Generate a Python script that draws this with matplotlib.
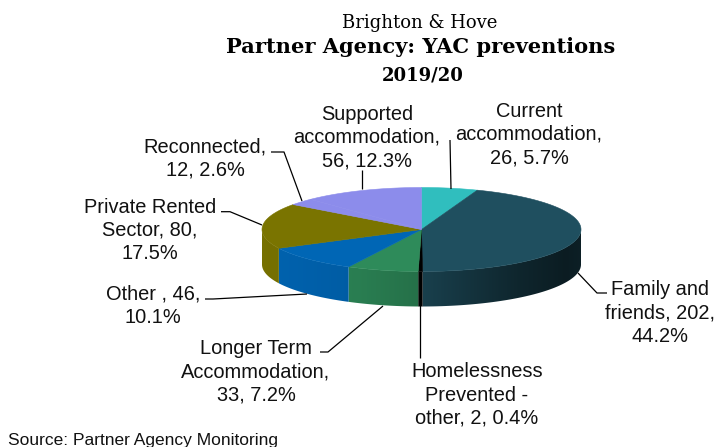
import numpy as np
import matplotlib
matplotlib.use("Agg")
import matplotlib.pyplot as plt
from matplotlib.patches import Polygon
from matplotlib.colors import to_rgb

# ---------------- data ----------------
categories = ["Current accommodation", "Family and friends",
              "Homelessness Prevented - other", "Longer Term Accommodation",
              "Other ", "Private Rented Sector", "Reconnected",
              "Supported accommodation"]
values = [26, 202, 2, 33, 46, 80, 12, 56]
label_templates = ["Current\naccommodation,\n{v}, {p}%",
                   "Family and\nfriends, {v},\n{p}%",
                   "Homelessness\nPrevented -\nother, {v}, {p}%",
                   "Longer Term\nAccommodation,\n{v}, {p}%",
                   "Other , {v},\n{p}%",
                   "Private Rented\nSector, {v},\n{p}%",
                   "Reconnected,\n{v}, {p}%",
                   "Supported\naccommodation,\n{v}, {p}%"]
colors = ["#30BEBE", "#1F4F5F", "#000000", "#2E8B5A",
          "#0066B5", "#7A7400", "#8C8CEB", "#8C8CEB"]
title_lines = ["Brighton & Hove", "Partner Agency: YAC preventions", "2019/20"]
source_text = "Source: Partner Agency Monitoring"

# ---------------- layout ----------------
W, H = 715, 447
fig = plt.figure(figsize=(7.15, 4.47), dpi=100)
ax = fig.add_axes([0, 0, 1, 1])

cx, cy, rx, ry, depth = 421.5, 229.5, 159.5, 42.0, 35.0
total = float(sum(values))
cum = np.concatenate([[0.0], np.cumsum(values)]) / total * 360.0


def arc(a0, a1, step=0.5):
    n = max(2, int(np.ceil((a1 - a0) / step)) + 1)
    a = np.linspace(a0, a1, n)
    t = np.radians(90.0 - a)
    return cx + rx * np.cos(t), cy - ry * np.sin(t)


def shade(x):
    u = (x - (cx - rx)) / (2 * rx)
    return np.interp(u, [0, 0.31, 0.51, 0.8, 0.95, 1.0],
                     [0.97, 0.9, 0.8, 0.48, 0.36, 0.4])


# side walls (front half: clockwise angles 90..270), gradient clipped
for i, v in enumerate(values):
    a0, a1 = cum[i], cum[i + 1]
    s0, s1 = max(a0, 90.0), min(a1, 270.0)
    if s1 <= s0:
        continue
    xs, ys = arc(s0, s1, step=0.25)
    poly = list(zip(xs, ys)) + list(zip(xs[::-1], ys[::-1] + depth))
    base = np.array(to_rgb(colors[i]))
    patch = Polygon(poly, closed=True, facecolor="none", edgecolor="none")
    ax.add_patch(patch)
    x_lo, x_hi = xs.min() - 1, xs.max() + 1
    y_lo, y_hi = ys.min() - 1, ys.max() + depth + 1
    ncol = max(2, int((x_hi - x_lo) * 2))
    xc = np.linspace(x_lo, x_hi, ncol)
    img = np.clip(base[None, None, :] * shade(xc)[None, :, None], 0, 1)
    img = np.repeat(img, 2, axis=0)
    im = ax.imshow(img, extent=(x_lo, x_hi, y_hi, y_lo), aspect="auto",
                   interpolation="bilinear", zorder=2)
    im.set_clip_path(patch)

# top faces
for i, v in enumerate(values):
    xs, ys = arc(cum[i], cum[i + 1], step=0.5)
    poly = [(cx, cy)] + list(zip(xs, ys))
    ax.add_patch(Polygon(poly, closed=True, facecolor=colors[i],
                         edgecolor=colors[i], lw=0.4, zorder=3))

# leader lines
leaders = [
    [(450, 140), (451, 189)],
    [(578, 273), (597, 293), (607, 293)],
    [(420, 305), (420, 358)],
    [(320, 352), (328, 352), (383, 306)],
    [(205, 299), (213, 299), (307, 294)],
    [(221, 211.7), (230, 211.7), (262, 225)],
    [(271, 152), (284, 152), (302, 201)],
    [(362, 170), (362, 189)],
]
for pts in leaders:
    p = np.array(pts)
    ax.plot(p[:, 0], p[:, 1], color="black", lw=0.9, zorder=4,
            solid_capstyle="butt")

# data labels
label_pos = [(529, 116.7), (660, 295), (477, 377.3), (256, 354),
             (153, 299.3), (150, 212.7), (205, 152.3), (367, 119.5)]
line_gap = 23.3
for i, v in enumerate(values):
    pct = round(v / total * 100, 1)
    txt = label_templates[i].format(v=v, p=pct)
    x0, y0 = label_pos[i]
    for j, line in enumerate(txt.split("\n")):
        ax.text(x0, y0 + j * line_gap, line, ha="center", va="baseline",
                fontsize=14.4, family="Liberation Sans", color="#111111",
                zorder=5)

ax.set_xlim(0, W)
ax.set_ylim(H, 0)
ax.axis("off")

renderer = fig.canvas.get_renderer()


def fit_text(x, y, s, width, size, **kw):
    t = ax.text(x, y, s, fontsize=size, **kw)
    bb = t.get_window_extent(renderer)
    t.set_fontsize(size * width / bb.width)
    return t


fit_text(419.5, 28.3, title_lines[0], 155, 13, ha="center", va="baseline",
         family="DejaVu Serif", color="black")
fit_text(420.5, 53.3, title_lines[1], 389, 16, ha="center", va="baseline",
         family="DejaVu Serif", fontweight="bold", color="black")
ax.text(422.5, 80.5, title_lines[2], ha="center", va="baseline", fontsize=13,
        family="DejaVu Serif", fontweight="bold", color="black")

t = ax.text(8.3, 445, source_text, ha="left", va="baseline", fontsize=12.5,
            family="Liberation Sans", color="#111111")
bb = t.get_window_extent(renderer)
t.set_fontsize(12.5 * 270 / bb.width)

fig.savefig("out.png", dpi=100)
